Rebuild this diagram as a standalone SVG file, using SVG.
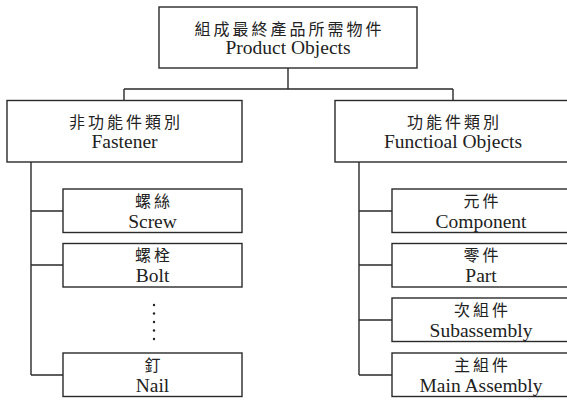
<svg xmlns="http://www.w3.org/2000/svg" width="567" height="401" viewBox="0 0 567 401">
<style>
.box{fill:#fff;stroke:#2a2a2a;stroke-width:1.4}
.ln{fill:none;stroke:#2a2a2a;stroke-width:1.4}
.zh{font-family:"Noto Sans CJK TC","Liberation Serif",serif;font-size:16px;fill:#222;text-anchor:middle;letter-spacing:3px}
.en{font-family:"Liberation Serif","Noto Sans CJK TC",serif;font-size:19.5px;fill:#222;text-anchor:middle}
.dot{fill:#222}
</style>
<rect width="567" height="401" fill="#fff"/>
<g id="connectors">
<path class="ln" d="M288 68V89M124 89H453M124 89V100.5M453 89V100.5"/>
<path class="ln" d="M31 162V375M31 211H63M31 265H63M31 375H63"/>
<path class="ln" d="M359 162V375M359 211H392M359 265H392M359 320H392M359 375H392"/>
</g>
<g id="root">
<rect class="box" x="159" y="7" width="258" height="61"/>
<text class="zh" x="289.5" y="34.5">組成最終產品所需物件</text>
<text class="en" x="288" y="54">Product Objects</text>
</g>
<g id="fastener">
<rect class="box" x="7" y="100.5" width="235" height="61.5"/>
<text class="zh" x="126" y="127.5">非功能件類別</text>
<text class="en" x="124.5" y="148">Fastener</text>
</g>
<g id="functional">
<rect class="box" x="335" y="100.5" width="236" height="61.5"/>
<text class="zh" x="454.5" y="127.5">功能件類別</text>
<text class="en" x="453" y="148">Functioal Objects</text>
</g>
<g id="screw">
<rect class="box" x="63" y="189" width="179" height="43.5"/>
<text class="zh" x="154" y="206.5">螺絲</text>
<text class="en" x="152.5" y="227.5">Screw</text>
</g>
<g id="bolt">
<rect class="box" x="63" y="243.5" width="179" height="43.5"/>
<text class="zh" x="154" y="261">螺栓</text>
<text class="en" x="152.5" y="282">Bolt</text>
</g>
<g id="ellipsis">
<circle class="dot" cx="154" cy="305" r="1.2"/>
<circle class="dot" cx="154" cy="313.5" r="1.2"/>
<circle class="dot" cx="154" cy="322" r="1.2"/>
<circle class="dot" cx="154" cy="330.5" r="1.2"/>
<circle class="dot" cx="154" cy="339" r="1.2"/>
</g>
<g id="nail">
<rect class="box" x="63" y="353" width="179" height="43.5"/>
<text class="zh" x="154" y="370.5">釘</text>
<text class="en" x="152.5" y="391.5">Nail</text>
</g>
<g id="component">
<rect class="box" x="392" y="189" width="179" height="43.5"/>
<text class="zh" x="482.5" y="206.5">元件</text>
<text class="en" x="481" y="227.5">Component</text>
</g>
<g id="part">
<rect class="box" x="392" y="243.5" width="179" height="43.5"/>
<text class="zh" x="482.5" y="261">零件</text>
<text class="en" x="481" y="282">Part</text>
</g>
<g id="subassembly">
<rect class="box" x="392" y="298" width="179" height="43.5"/>
<text class="zh" x="482.5" y="315.5">次組件</text>
<text class="en" x="481" y="336.5">Subassembly</text>
</g>
<g id="main-assembly">
<rect class="box" x="392" y="353" width="179" height="43.5"/>
<text class="zh" x="482.5" y="370.5">主組件</text>
<text class="en" x="481" y="391.5">Main Assembly</text>
</g>
</svg>
